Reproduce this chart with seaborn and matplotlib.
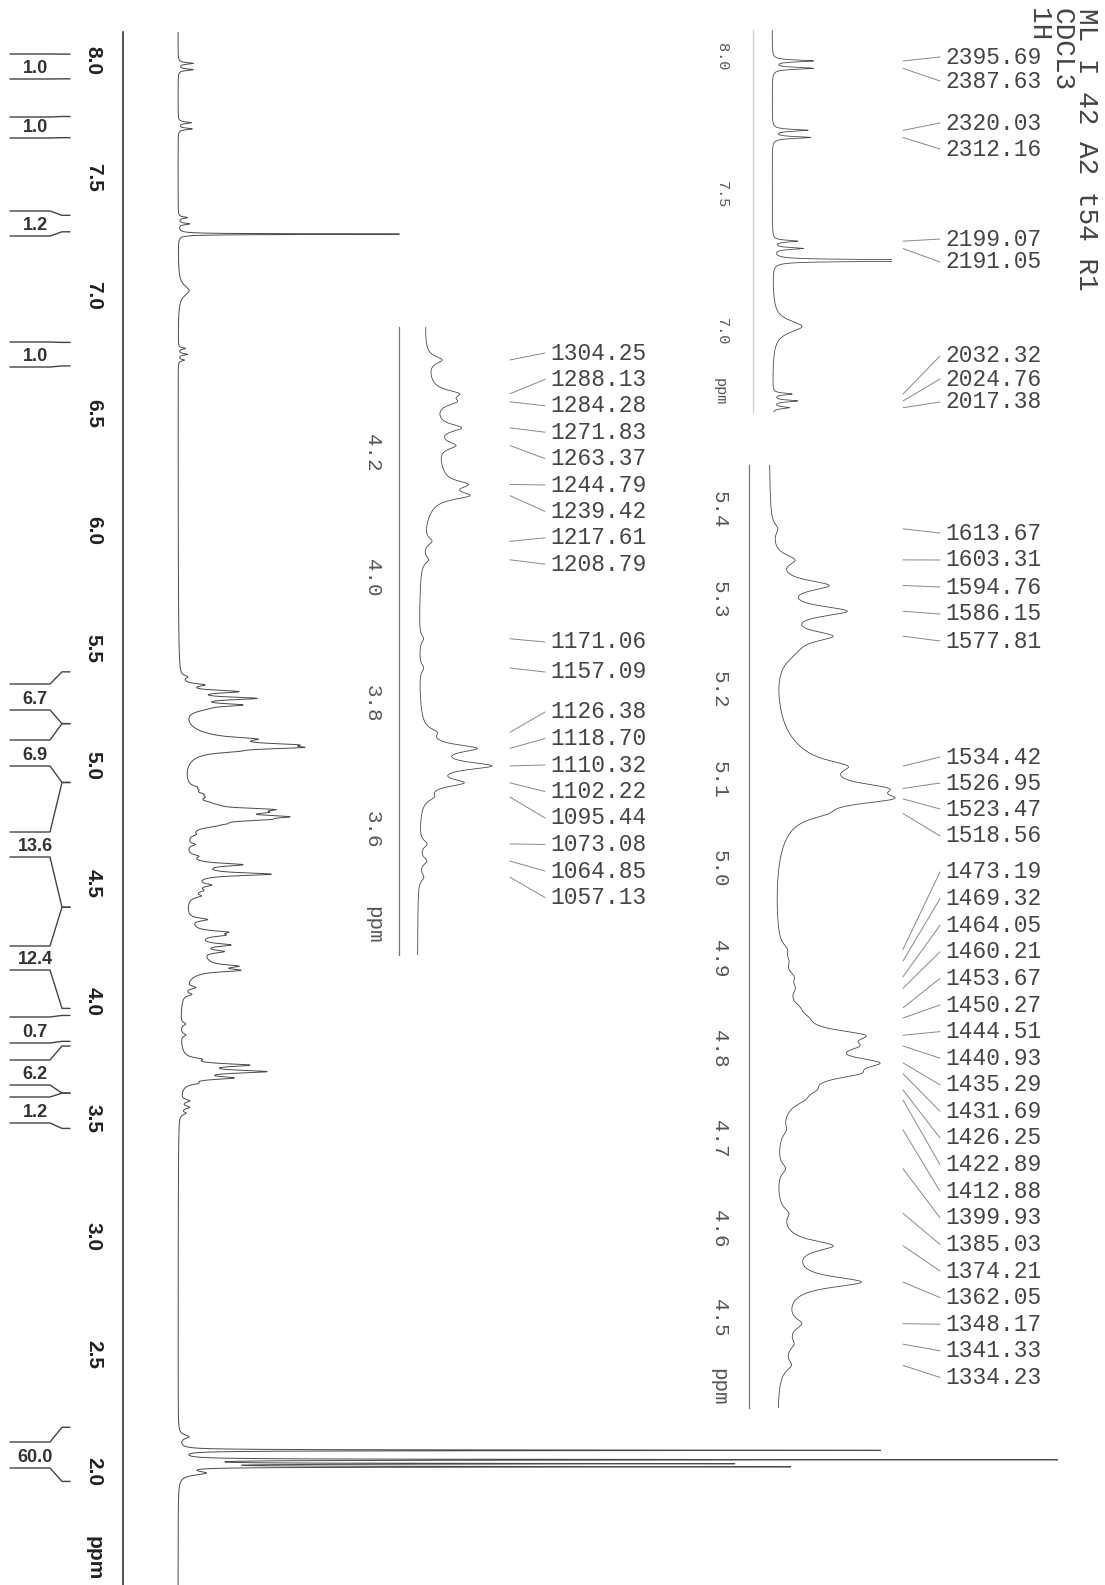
import numpy as np
import pandas as pd
import matplotlib
matplotlib.use('Agg')
import matplotlib.pyplot as plt
from matplotlib.ticker import MultipleLocator
import seaborn as sns

sns.set_style('white')
plt.rcParams['font.family'] = ['Liberation Sans', 'DejaVu Sans']
MONO = ['Liberation Mono', 'DejaVu Sans Mono']

SF = 300.0  # spectrometer frequency, MHz

# labelled peaks (Hz) and heights
top_hz = [2395.69, 2387.63, 2320.03, 2312.16, 2199.07, 2191.05, 2032.32, 2024.76, 2017.38]
top_amp = [15, 15, 13, 14, 9, 11, 7, 9, 6]

mid_hz = [1304.25, 1288.13, 1284.28, 1271.83, 1263.37, 1244.79, 1239.42, 1217.61, 1208.79,
          1171.06, 1157.09, 1126.38, 1118.70, 1110.32, 1102.22, 1095.44, 1073.08, 1064.85, 1057.13]
mid_amp = [18, 28, 22, 30, 22, 30, 38, 10, 8, 5, 5, 12, 55, 70, 42, 10, 9, 9, 6]

low_hz = [1613.67, 1603.31, 1594.76, 1586.15, 1577.81, 1534.42, 1526.95, 1523.47, 1518.56,
          1473.19, 1469.32, 1464.05, 1460.21, 1453.67, 1450.27, 1444.51, 1440.93, 1435.29,
          1431.69, 1426.25, 1422.89, 1412.88, 1399.93, 1385.03, 1374.21, 1362.05, 1348.17,
          1341.33, 1334.23]
low_amp = [6, 20, 52, 68, 48, 30, 55, 70, 20, 6, 5, 8, 7, 6, 8, 55, 35, 60, 42, 14, 10,
           5, 8, 8, 45, 72, 14, 7, 9]

# unlabelled signals: solvent, broad humps (ppm, height, half width Hz)
extra_ppm = [7.26, 7.02, 5.243, 5.11, 5.09, 4.88, 4.79, 4.56, 4.48, 4.26, 4.16, 3.71, 2.15]
extra_amp = [221, 11, 16, 25, 22, 5, 28, 15, 10, 14, 20, 12, 10]
extra_hw = [0.5, 8, 5, 10, 12, 20, 14, 12, 15, 25, 15, 12, 3]

# acetyl singlets
acetyl_ppm = [2.092, 2.052, 2.035, 2.022, 1.995]
acetyl_amp = [700, 872, 540, 600, 25]
acetyl_hw = [0.45, 0.45, 0.45, 0.45, 3]

# integrals
int_text = ['1.0', '1.0', '1.2', '1.0', '6.7', '6.9', '13.6', '12.4', '0.7', '6.2', '1.2', '60.0']
int_from = [8.025, 7.76, 7.34, 6.80, 5.40, 5.18, 4.93, 4.40, 3.94, 3.81, 3.61, 2.19]
int_to = [7.92, 7.67, 7.27, 6.70, 5.18, 4.93, 4.40, 3.97, 3.83, 3.61, 3.46, 1.96]

main_ticks = [8.0, 7.5, 7.0, 6.5, 6.0, 5.5, 5.0, 4.5, 4.0, 3.5, 3.0, 2.5, 2.0]
top_ticks = [8.0, 7.5, 7.0]
low_ticks = [5.4, 5.3, 5.2, 5.1, 5.0, 4.9, 4.8, 4.7, 4.6, 4.5, 4.4]
mid_ticks = [4.4, 4.2, 4.0, 3.8, 3.6]

# ---- build the trace
grid = np.arange(1.50, 8.15, 0.0002)
spec = np.zeros_like(grid)


def add_lines(centers, amps, hw_hz):
    global spec
    hw = np.broadcast_to(np.asarray(hw_hz, float), (len(centers),)) / SF
    for c, a, w in zip(centers, amps, hw):
        spec = spec + a / (1 + ((grid - c) / w) ** 2)


add_lines(np.array(top_hz) / SF, top_amp, 1.2)
add_lines(np.array(mid_hz) / SF, mid_amp, 2.2)
add_lines(np.array(low_hz) / SF, low_amp, 2.2)
add_lines(extra_ppm, extra_amp, extra_hw)
add_lines(acetyl_ppm, acetyl_amp, acetyl_hw)
df = pd.DataFrame({'ppm': grid, 'I': spec})

W, H = 1105, 1585
fig = plt.figure(figsize=(W / 100, H / 100), dpi=100)


def box(x0, y0, x1, y1):
    return [x0 / W, 1 - y1 / H, (x1 - x0) / W, (y1 - y0) / H]


def trace(ax, lw):
    sns.lineplot(data=df, x='I', y='ppm', orient='y', sort=False, estimator=None,
                 ax=ax, color='#4a4a4a', linewidth=lw)
    ax.set_xlabel('')
    ax.set_ylabel('')


# ---- main spectrum
ax = fig.add_axes(box(0, 32, W, H))
ax.patch.set_alpha(0)
trace(ax, 0.7)
ax.set_xlim(-178, 927)
ax.set_ylim(1.5198, 8.119)
for s in ['top', 'right', 'bottom']:
    ax.spines[s].set_visible(False)
ax.spines['left'].set_position(('data', -55))
ax.spines['left'].set_color('#222')
ax.spines['left'].set_linewidth(1.1)
ax.set_xticks([])
ax.set_yticks(main_ticks, [f'{t:.1f}' for t in main_ticks], rotation=270, va='center',
              fontweight='bold', fontsize=15, color='#222')
ax.yaxis.set_minor_locator(MultipleLocator(0.1))
ax.tick_params(axis='y', which='major', direction='out', length=8.5, width=1.1, color='#222', pad=6)
ax.tick_params(axis='y', which='minor', direction='out', length=3.5, width=1.0, color='#222')


def inset(rect, ylim, xlim, ticks, labels, minor, fs, pad, lw, major_len):
    a = fig.add_axes(box(*rect))
    a.patch.set_alpha(0)
    trace(a, lw)
    a.set_xlim(*xlim)
    a.set_ylim(*ylim)
    for s in ['top', 'right', 'bottom']:
        a.spines[s].set_visible(False)
    a.spines['left'].set_color('#777')
    a.spines['left'].set_linewidth(0.9)
    a.set_xticks([])
    a.set_yticks(ticks, labels, rotation=270, va='center', fontsize=fs, color='#555', family=MONO)
    a.yaxis.set_minor_locator(MultipleLocator(minor))
    a.tick_params(axis='y', which='major', direction='out', length=major_len, width=0.9, color='#777', pad=pad)
    a.tick_params(axis='y', which='minor', direction='out', length=3.2, width=0.8, color='#777')
    return a


ax_top = inset((753, 29.5, 892, 411.75), (6.71, 8.10), (-19 / 2.7, 120 / 2.7), top_ticks,
               ['8.0', '7.5', '7.0'], 0.1, 11, 7, 0.6, 10.5)
ax_top.spines['left'].set_color('#cfcfcf')
ax_low = inset((749, 465, 900, 1408), (4.40, 5.45), (-19, 132), low_ticks,
               [f'{t:.1f}' for t in low_ticks[:-1]] + [''], 0.01, 15, 6, 0.6, 8.6)
ax_mid = inset((399, 327, 505, 955), (3.40, 4.40), (-18 / 0.84, 88 / 0.84), mid_ticks,
               ['', '4.2', '4.0', '3.8', '3.6'], 0.1, 15, 3, 0.6, 9.5)

# ---- overlay in pixel coordinates for labels and integrals
ov = fig.add_axes([0, 0, 1, 1])
ov.set_xlim(0, W)
ov.set_ylim(H, 0)
ov.axis('off')
ov.patch.set_alpha(0)


def ypx(a, ppm):
    return H - a.transData.transform((0, ppm))[1]


ov.text(94, 1558, 'ppm', rotation=270, ha='center', va='center', fontsize=15,
        fontweight='bold', color='#222')
ov.text(720, 392, 'ppm', rotation=270, ha='center', va='center', fontsize=11, color='#555', family=MONO)
ov.text(719, 1387, 'ppm', rotation=270, ha='center', va='center', fontsize=15, color='#555', family=MONO)
ov.text(374, 925, 'ppm', rotation=270, ha='center', va='center', fontsize=15, color='#555', family=MONO)

# integral brackets
int_box = [(54, 79), (117, 138), (211, 236), (342, 367), (684, 710), (740, 766), (832, 857),
           (946, 970), (1017, 1043), (1060, 1085), (1097, 1123), (1442, 1468)]
for txt, p0, p1, (bt, bb) in zip(int_text, int_from, int_to, int_box):
    y0 = ypx(ax, p0)
    y1 = ypx(ax, p1)
    ov.plot([10, 50, 62, 70], [bt, bt, y0, y0], color='#444', lw=1.0)
    ov.plot([10, 50, 62, 70], [bb, bb, y1, y1], color='#444', lw=1.0)
    ov.text(35, bb - 2, txt, ha='center', va='bottom', fontsize=13, fontweight='bold', color='#333')

# peak labels
top_ly = [57, 81, 123, 149, 239, 262, 356, 379, 402]
low_ly = [533, 560, 587, 614, 641, 757, 783, 809, 836] + [872 + 26.6 * i for i in range(20)]
mid_ly = [353 + 26.4 * i for i in range(9)] + [642, 672] + [712 + 26.5 * i for i in range(8)]


def peak_labels(a, hz, ly, x0, x1):
    for h, yl in zip(hz, ly):
        yp = ypx(a, h / SF)
        ov.plot([x0, x1], [yp, yl], color='#888', lw=0.7)
        ov.text(x1 + 5, yl, f'{h:.2f}', ha='left', va='center', fontsize=16.5,
                color='#444', family=MONO)


peak_labels(ax_top, top_hz, top_ly, 903, 940)
peak_labels(ax_low, low_hz, low_ly, 903, 940)
peak_labels(ax_mid, mid_hz, mid_ly, 510, 545)

# header
for x, s in zip([1086, 1062, 1038], ['ML I 42 A2 t54 R1', 'CDCL3', '1H']):
    ov.text(x, 8, s, rotation=270, rotation_mode='anchor', ha='left', va='center',
            fontsize=20, color='#444', family=MONO)

fig.savefig('out.png', dpi=100)
